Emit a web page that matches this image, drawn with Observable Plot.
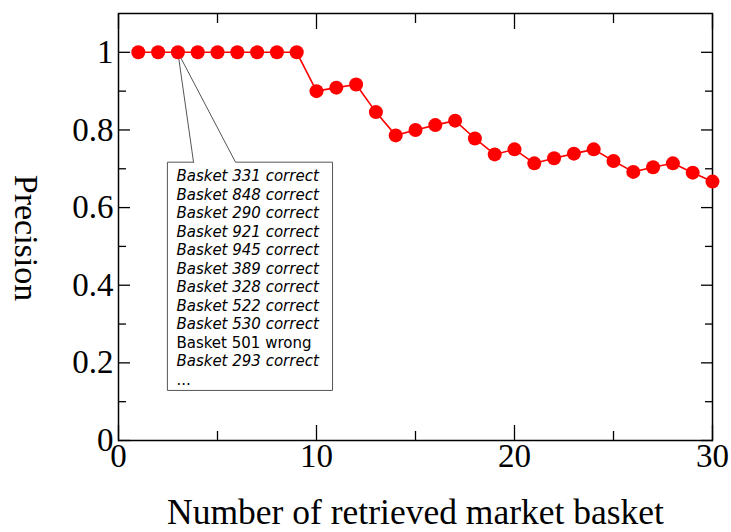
<!DOCTYPE html>
<html><head><meta charset="utf-8">
<script src="https://cdn.jsdelivr.net/npm/d3@7"></script>
<script src="https://cdn.jsdelivr.net/npm/@observablehq/plot@0.6"></script>
<style>body{margin:0;background:#fff}#chart svg{display:block}</style>
</head><body><div id="chart"></div>
<script>
const retrieved = [1,2,3,4,5,6,7,8,9,10,11,12,13,14,15,16,17,18,19,20,21,22,23,24,25,26,27,28,29,30];
const precision = [1,1,1,1,1,1,1,1,1,0.9,0.909,0.917,0.846,0.786,0.8,0.8125,0.824,0.778,0.737,0.75,0.714,0.727,0.739,0.75,0.72,0.692,0.704,0.714,0.69,0.667];
const xMajorTicks = [0,10,20,30];
const xMinorTicks = [5,15,25];
const yMajorTicks = [0,0.2,0.4,0.6,0.8,1];
const yMinorTicks = [0.1,0.3,0.5,0.7,0.9];
const xLabel = "Number of retrieved market basket";
const yLabel = "Precision";
const calloutLines = ["Basket 331 correct","Basket 848 correct","Basket 290 correct","Basket 921 correct","Basket 945 correct","Basket 389 correct","Basket 328 correct","Basket 522 correct","Basket 530 correct","Basket 501 wrong","Basket 293 correct","..."];
const calloutItalic = [true,true,true,true,true,true,true,true,true,false,true,false];
// callout geometry in data units (basket number, precision)
const calloutAnchor = {x: 3, y: 1};
const calloutBox = {x1: 2.47, x2: 10.81, y1: 0.129, y2: 0.717};
const calloutBase = [3.79, 5.91];

const data = retrieved.map((x, i) => ({x, y: precision[i]}));
const outline = [
  {x: calloutBase[0], y: calloutBox.y2},
  {x: calloutAnchor.x, y: calloutAnchor.y},
  {x: calloutBase[1], y: calloutBox.y2},
  {x: calloutBox.x2, y: calloutBox.y2},
  {x: calloutBox.x2, y: calloutBox.y1},
  {x: calloutBox.x1, y: calloutBox.y1},
  {x: calloutBox.x1, y: calloutBox.y2},
  {x: calloutBase[0], y: calloutBox.y2}
];
const italicText = calloutLines.map((l, i) => calloutItalic[i] ? l : "\u00a0").join("\n");
const normalText = calloutLines.map((l, i) => calloutItalic[i] ? "\u00a0" : l).join("\n");

const serif = "Liberation Serif, Times New Roman, serif";
const sans = "DejaVu Sans, Verdana, sans-serif";
const blank = () => "";

const chart = Plot.plot({
  width: 731,
  height: 532,
  marginLeft: 118,
  marginRight: 19,
  marginTop: 13,
  marginBottom: 92,
  style: {fontFamily: serif, background: "#fff", color: "#000"},
  x: {domain: [0, 30], label: null},
  y: {domain: [0, 1.1], label: null},
  marks: [
    // ticks (inward)
    Plot.axisX(xMajorTicks, {anchor: "bottom", tickSize: -15, tickFormat: blank, label: null, strokeWidth: 1.3}),
    Plot.axisX(xMinorTicks, {anchor: "bottom", tickSize: -9, tickFormat: blank, label: null, strokeWidth: 1.3}),
    Plot.axisX(xMajorTicks, {anchor: "top", tickSize: -15, tickFormat: blank, label: null, strokeWidth: 1.3}),
    Plot.axisX(xMinorTicks, {anchor: "top", tickSize: -9, tickFormat: blank, label: null, strokeWidth: 1.3}),
    Plot.axisY(yMajorTicks, {anchor: "left", tickSize: -12, tickFormat: blank, label: null, strokeWidth: 1.3}),
    Plot.axisY(yMinorTicks, {anchor: "left", tickSize: -8, tickFormat: blank, label: null, strokeWidth: 1.3}),
    Plot.axisY(yMajorTicks, {anchor: "right", tickSize: -12, tickFormat: blank, label: null, strokeWidth: 1.3}),
    Plot.axisY(yMinorTicks, {anchor: "right", tickSize: -8, tickFormat: blank, label: null, strokeWidth: 1.3}),
    // tick labels
    Plot.axisX(xMajorTicks, {anchor: "bottom", tickSize: 0, tickPadding: 3, fontSize: 33, fontFamily: serif, label: null, tickFormat: d => d}),
    Plot.axisY(yMajorTicks, {anchor: "left", tickSize: 0, tickPadding: 5, fontSize: 33, fontFamily: serif, label: null, tickFormat: d => d}),
    Plot.frame({stroke: "#000", strokeWidth: 1.5}),
    // axis titles
    Plot.text([xLabel], {frameAnchor: "bottom", dy: 72, text: d => d, fontSize: 35.5, fontFamily: serif, lineAnchor: "middle", fill: "#000"}),
    Plot.text([yLabel], {frameAnchor: "left", dx: -93, dy: 11, rotate: 90, textAnchor: "middle", lineAnchor: "middle", text: d => d, fontSize: 34, fontFamily: serif, fill: "#000"}),
    // callout
    Plot.line(outline, {x: "x", y: "y", stroke: "#555", strokeWidth: 1, fill: "none"}),
    Plot.text([italicText], {x: calloutBox.x1, y: calloutBox.y2, text: d => d, textAnchor: "start", lineAnchor: "top", lineHeight: 1.233, dx: 9, dy: 6, fontStyle: "italic", fontFamily: sans, fontSize: 15, fill: "#000"}),
    Plot.text([normalText], {x: calloutBox.x1, y: calloutBox.y2, text: d => d, textAnchor: "start", lineAnchor: "top", lineHeight: 1.233, dx: 9, dy: 6, fontFamily: sans, fontSize: 15, fill: "#000"}),
    // data
    Plot.line(data, {x: "x", y: "y", stroke: "#ff0000", strokeWidth: 1.6}),
    Plot.dot(data, {x: "x", y: "y", r: 7, fill: "#ff0000", stroke: "none"})
  ]
});
document.getElementById("chart").append(chart);
</script>
</body></html>
